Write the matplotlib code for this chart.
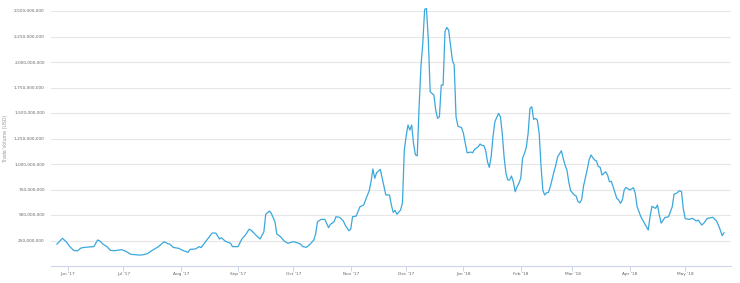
import datetime as dt
import matplotlib
matplotlib.use("Agg")
import matplotlib.pyplot as plt
from matplotlib.ticker import FuncFormatter

# days since 1 Jun 2017, and daily trade volume in millions of USD
days = [-6, -3, -1, 1, 3, 5, 7, 9, 14, 15, 16, 17, 19, 21, 23, 25, 29, 31, 34, 38,
        40, 43, 45, 49, 52, 54, 55, 57, 60, 62, 65, 66, 69, 71, 72, 74, 76, 78, 80, 82,
        83, 85, 88, 89, 92, 94, 96, 98, 99, 102, 104, 106, 107, 109, 110, 112, 113, 115, 117, 119,
        120, 122, 124, 126, 127, 129, 131, 133, 134, 135, 137, 139, 141, 142, 144, 145, 147, 149, 150, 152,
        153, 154, 156, 158, 160, 161, 163, 164, 165, 166, 167, 169, 171, 172, 174, 175, 176, 177, 178, 180,
        181, 182, 183, 184, 185, 186, 187, 188, 189, 190, 191, 192, 193, 194, 195, 196, 198, 199, 200, 201,
        202, 203, 204, 205, 206, 207, 208, 209, 210, 211, 213, 214, 215, 216, 218, 219, 220, 222, 223, 224,
        225, 226, 227, 228, 229, 230, 231, 233, 234, 235, 236, 237, 238, 239, 240, 241, 242, 243, 244, 245,
        246, 247, 248, 249, 250, 251, 252, 253, 254, 255, 256, 257, 258, 259, 260, 261, 263, 264, 265, 267,
        268, 269, 270, 271, 272, 274, 275, 276, 277, 278, 279, 281, 282, 283, 285, 286, 287, 288, 289, 291,
        292, 293, 294, 295, 297, 298, 299, 300, 301, 302, 304, 306, 307, 308, 310, 311, 312, 314, 315, 316,
        318, 319, 320, 321, 323, 325, 327, 328, 329, 331, 332, 333, 334, 336, 338, 340, 341, 343, 344, 346,
        349, 351, 352, 353, 354, 355]
volume = [215, 271, 238, 190, 154, 147, 176, 183, 190, 222, 255, 248, 213, 190, 154, 150, 160, 147, 115, 108,
          108, 121, 147, 190, 238, 219, 216, 182, 173, 154, 134, 163, 167, 190, 180, 228, 277, 323, 323, 265,
          277, 245, 222, 190, 190, 262, 304, 360, 353, 297, 265, 336, 507, 539, 517, 434, 314, 287, 245, 222,
          228, 238, 228, 213, 190, 183, 213, 255, 314, 434, 457, 457, 376, 408, 434, 483, 477, 441, 402, 346,
          360, 483, 490, 581, 598, 647, 738, 826, 951, 859, 914, 947, 777, 696, 696, 598, 526, 545, 507, 550,
          620, 1137, 1274, 1382, 1333, 1382, 1200, 1090, 1080, 1561, 1953, 2182, 2516, 2525, 2215, 1708, 1676, 1529, 1447, 1463,
          1774, 1774, 2296, 2339, 2313, 2166, 2019, 1970, 1463, 1372, 1355, 1300, 1202, 1110, 1117, 1110, 1143, 1169, 1196, 1183,
          1180, 1137, 1022, 967, 1071, 1267, 1414, 1496, 1463, 1300, 1071, 908, 843, 843, 882, 826, 728, 777, 810, 859,
          1055, 1104, 1160, 1300, 1545, 1561, 1437, 1447, 1431, 1300, 977, 740, 696, 718, 722, 777, 924, 990, 1071, 1130,
          1055, 990, 941, 826, 738, 696, 686, 630, 620, 653, 784, 947, 1039, 1088, 1039, 1029, 975, 967, 892, 924,
          892, 826, 830, 777, 663, 647, 614, 647, 745, 771, 745, 767, 712, 581, 483, 451, 418, 353, 483, 585,
          565, 598, 500, 420, 475, 483, 581, 705, 710, 738, 730, 560, 465, 457, 467, 441, 451, 402, 418, 467,
          477, 440, 400, 353, 297, 326]

month_ticks = ["2017-06-01", "2017-07-01", "2017-08-01", "2017-09-01", "2017-10-01", "2017-11-01",
               "2017-12-01", "2018-01-01", "2018-02-01", "2018-03-01", "2018-04-01", "2018-05-01"]
month_labels = ["Jun '17", "Jul '17", "Aug '17", "Sep '17", "Oct '17", "Nov '17",
                "Dec '17", "Jan '18", "Feb '18", "Mar '18", "Apr '18", "May '18"]
y_ticks = [250e6, 500e6, 750e6, 1000e6, 1250e6, 1500e6, 1750e6, 2000e6, 2250e6, 2500e6]

start = dt.datetime(2017, 6, 1)
dates = [start + dt.timedelta(days=d) for d in days]
values = [v * 1e6 for v in volume]

fig = plt.figure(figsize=(7.4, 2.83), dpi=100)
ax = fig.add_axes([51 / 740, 17 / 283, 680 / 740, 255 / 283])

ax.plot(dates, values, color="#3aa8dc", lw=0.9, clip_on=False, zorder=3)

ax.set_xlim(start + dt.timedelta(days=-9.2), start + dt.timedelta(days=358.8))
ax.set_ylim(0, 2.5e9)

ax.set_yticks(y_ticks)
ax.yaxis.set_major_formatter(FuncFormatter(lambda v, p: f"{int(v):,}"))
ax.set_xticks([dt.datetime.strptime(s, "%Y-%m-%d") for s in month_ticks])
ax.set_xticklabels(month_labels)

ax.grid(axis="y", color="#e6e6e6", lw=0.8)
ax.set_axisbelow(True)
for s in ["top", "right", "left"]:
    ax.spines[s].set_visible(False)
ax.spines["bottom"].set_color("#ccd6eb")
ax.spines["bottom"].set_linewidth(0.8)

ax.tick_params(axis="y", length=0, pad=4.5, labelsize=3.1, labelcolor="#666666")
ax.tick_params(axis="x", length=3.5, width=0.7, color="#ccd6eb", pad=1,
               labelsize=3.1, labelcolor="#666666")

ax.set_ylabel("Trade Volume (USD)", fontsize=3.4, color="#999999")
ax.yaxis.set_label_coords(-43 / 680, 0.5)

fig.savefig("out.png", dpi=100)
